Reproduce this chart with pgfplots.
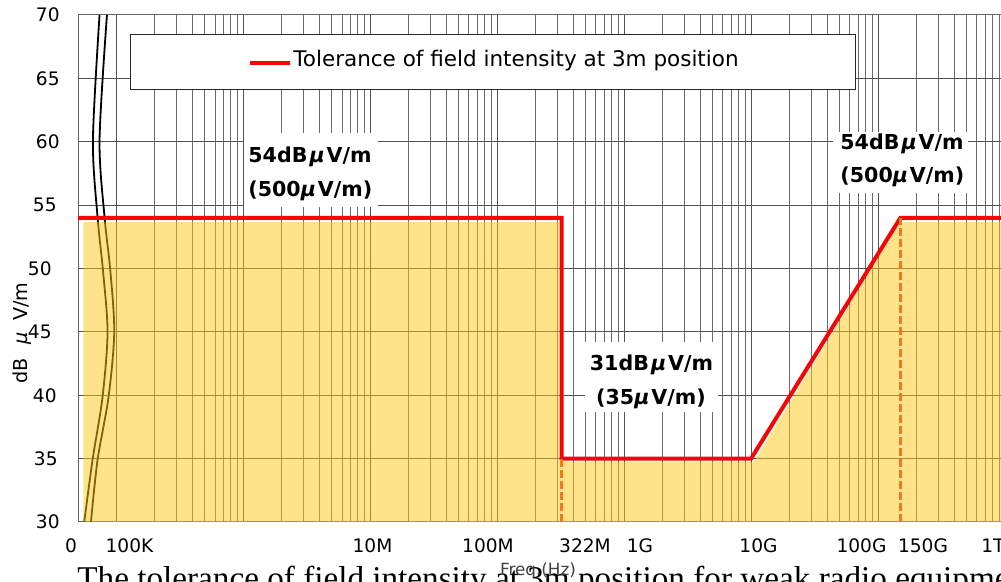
\documentclass[border=0pt]{standalone}
\usepackage{pgfplots}
\pgfplotsset{compat=1.18}
\usepackage{fontspec}
\setmainfont{DejaVu Sans}
\newfontfamily\capfont{Liberation Serif}
\definecolor{fillY}{RGB}{255,199,20}
\definecolor{limred}{RGB}{245,5,5}
\definecolor{dashor}{RGB}{240,120,30}
\begin{document}
\begin{tikzpicture}
\begin{axis}[
 at={(39pt,30pt)}, anchor=south west, scale only axis,
 width=463.5pt, height=253.5pt,
 xmode=log, xmin=5e4, xmax=1e12, ymin=30, ymax=70,
 xtick={1e5,1e6,1e7,1e8,1e9,1e10,1e11},
 minor xtick={2e5,3e5,4e5,5e5,6e5,7e5,8e5,9e5,
   2e6,3e6,4e6,5e6,6e6,7e6,8e6,9e6,
   2e7,3e7,4e7,5e7,6e7,7e7,8e7,9e7,
   2e8,3e8,4e8,5e8,6e8,7e8,8e8,9e8,
   2e9,3e9,4e9,5e9,6e9,7e9,8e9,9e9,
   2e10,3e10,4e10,5e10,6e10,7e10,8e10,9e10,
   2e11,3e11,4e11,5e11,6e11,7e11,8e11,9e11},
 ytick={30,35,40,45,50,55,60,65,70},
 xticklabels={}, yticklabels={},
 major tick length=0pt, minor tick length=0pt,
 xmajorgrids, xminorgrids, ymajorgrids,
 major grid style={black!68, line width=0.5pt},
 minor grid style={black!58, line width=0.5pt},
 axis line style={black!60, line width=0.5pt},
]
% axis-break curves
\addplot[black, line width=0.9pt, smooth] coordinates {(73900,70) (65550,60.14) (71250,54.06) (78590,49.88) (85420,44.99) (78010,39.86) (65080,34.89) (55980,30)};
\addplot[black, line width=0.9pt, smooth] coordinates {(84500,70) (73900,60.14) (80880,54.06) (89740,49.88) (96450,44.99) (86980,39.86) (71250,34.89) (63220,30)};
% area
\addplot[draw=none, fill=fillY, fill opacity=0.5] coordinates {(5.5e4,30) (5.5e4,53.67) (3.08e8,53.67) (3.08e8,34.73) (1.05e10,34.73) (1.42e11,53.3) (1.6e11,53.67) (1e12,53.67) (1e12,30)} -- cycle;
% limit line
\addplot[limred, line width=2pt] coordinates {(5e4,54) (3.22e8,54) (3.22e8,35) (1e10,35) (1.5e11,54) (1e12,54)};
\addplot[dashor, line width=1.4pt, dash pattern=on 4pt off 1.5pt] coordinates {(3.22e8,30) (3.22e8,35)};
\addplot[dashor, line width=1.4pt, dash pattern=on 4pt off 1.5pt] coordinates {(1.5e11,30) (1.5e11,54)};
\end{axis}
\begin{scope}[x=0.5pt,y=-0.5pt,shift={(0pt,291pt)}]
% legend
\draw[black!85, fill=white, line width=0.5pt] (130,35) rectangle (855,90);
\draw[limred, line width=2pt] (250,63.5) -- (290,63.5);
\node[anchor=base west, inner sep=0, font=\fontsize{10.75}{13}\selectfont] at (293,66.7) {Tolerance of field intensity at 3m position};
% annotation boxes
\fill[white] (244,133) rectangle (378,207);
\fill[white] (585,342) rectangle (718,412);
\fill[white] (833,132) rectangle (968,193);
\begin{scope}[every node/.style={inner sep=0, font=\bfseries\fontsize{10.3}{12}\selectfont}]
\node[anchor=base west] at (248,163) {54dB\kern1pt{\itshape μ}\kern1pt V/m};
\node[anchor=base west] at (248,197) {(500{\itshape μ}\kern1pt V/m)};
\node[anchor=base] at (651.5,371) {31dB\kern1pt{\itshape μ}\kern1pt V/m};
\node[anchor=base] at (651,405) {(35{\itshape μ}\kern1pt V/m)};
\node[anchor=base west] at (840,150) {54dB\kern1pt{\itshape μ}\kern1pt V/m};
\node[anchor=base west] at (840,183) {(500{\itshape μ}\kern1pt V/m)};
\end{scope}
% x tick labels
\begin{scope}[every node/.style={inner sep=0, font=\fontsize{9.3}{11}\selectfont}]
\node at (71,545.5) {0};
\node at (129.5,545.5) {100K};
\node at (372.5,545.5) {10M};
\node at (488,545.5) {100M};
\node at (585,545.5) {322M};
\node at (640,545.5) {1G};
\node at (758.5,545.5) {10G};
\node at (861.5,545.5) {100G};
\node at (923,545.5) {150G};
\node at (993,545.5) {1T};
% y tick labels
\node[anchor=east] at (60,522) {30};
\node[anchor=east] at (58,458.6) {35};
\node[anchor=east] at (57,395.3) {40};
\node[anchor=east] at (52,332) {45};
\node[anchor=east] at (52,268.5) {50};
\node[anchor=east] at (57,205.1) {55};
\node[anchor=east] at (60,141.8) {60};
\node[anchor=east] at (60,78.4) {65};
\node[anchor=east] at (60,15) {70};
\end{scope}
% y label
\node[rotate=90, inner sep=0, font=\fontsize{9.6}{11}\selectfont] at (22,333) {dB\hspace{0.7em}{\itshape μ}\hspace{0.6em}V/m};
% caption (cut by the page edge)
\node[anchor=base west, inner sep=0, font=\capfont\fontsize{16.6}{20}\selectfont] at (77,590) {The tolerance of field intensity at 3m position for weak radio equipment};
\node[inner sep=0, text=black!75, font=\fontsize{8.4}{10}\selectfont] at (538,571) {Freq.(Hz)};
\end{scope}
\pgfresetboundingbox
\path[use as bounding box] (0pt,0pt) rectangle (500.5pt,291pt);
\end{tikzpicture}
\end{document}
